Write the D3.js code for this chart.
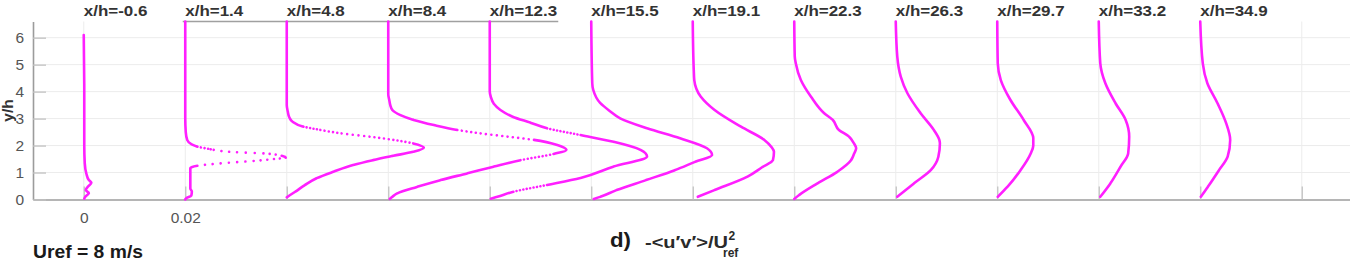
<!DOCTYPE html>
<html>
<head>
<meta charset="utf-8">
<script src="https://cdn.jsdelivr.net/npm/d3@7"></script>
<style>
  html, body { margin: 0; padding: 0; background: #fff; }
  svg { display: block; font-family: Arial, "Liberation Sans", sans-serif; }
</style>
</head>
<body>
<svg id="chart" width="1350" height="269"></svg>
<script>
// stations along the channel, each profile shifted by 0.02 on the x axis
const stationLabels = ['x/h=-0.6', 'x/h=1.4', 'x/h=4.8', 'x/h=8.4', 'x/h=12.3', 'x/h=15.5',
  'x/h=19.1', 'x/h=22.3', 'x/h=26.3', 'x/h=29.7', 'x/h=33.2', 'x/h=34.9'];
const stationShift = [0, 0.02, 0.04, 0.06, 0.08, 0.10, 0.12, 0.14, 0.16, 0.18, 0.20, 0.22];

const xTickValues = [0, 0.02, 0.04, 0.06, 0.08, 0.10, 0.12, 0.14, 0.16, 0.18, 0.20, 0.22, 0.24];
const xTickLabels = ['0', '0.02'];
const yTickValues = [0, 1, 2, 3, 4, 5, 6];

// [y/h, -<u'v'>/Uref^2], top to bottom
const profM06 = [[6.1, 0], [4, 0.0001], [2, 0.0001], [1.34, 0.0002], [0.97, 0.0005], [0.72, 0.001],
  [0.62, 0.0015], [0.47, 0.0008], [0.35, 0.0004], [0.24, 0.001], [0.1, 0.0003], [0.03, 0.0001]];
const prof14 = [[6.6, 0], [3, 0], [2.5, 0.0001], [2.2, 0.0004], [2.05, 0.0012], [1.96, 0.0024],
  [1.88, 0.0045], [1.84, 0.0056], [1.75, 0.0102], [1.71, 0.0154], [1.62, 0.019], [1.55, 0.0198],
  [1.5, 0.0175], [1.43, 0.0135], [1.34, 0.007], [1.25, 0.0024], [1.16, 0.001], [0.8, 0.001],
  [0.41, 0.001], [0.3, 0.0013], [0.15, 0.0012], [0.05, 0.0002], [0, 0]];
const prof48 = [[6.6, 0], [3.5, 0], [3.26, 0.0002], [3.05, 0.0005], [2.89, 0.0011], [2.7, 0.0033],
  [2.58, 0.0066], [2.45, 0.0108], [2.33, 0.0163], [2.21, 0.021], [2.08, 0.0249], [1.92, 0.027],
  [1.77, 0.0249], [1.62, 0.021], [1.46, 0.017], [1.28, 0.0131], [1.03, 0.0092], [0.79, 0.0059],
  [0.54, 0.0036], [0.29, 0.0017], [0.08, 0]];
const prof84 = [[6.6, 0], [3.9, 0], [3.69, 0.0002], [3.5, 0.0004], [3.32, 0.0008], [3.13, 0.0024],
  [2.95, 0.005], [2.76, 0.009], [2.58, 0.0136], [2.45, 0.0182], [2.33, 0.0235], [2.21, 0.0287],
  [2.02, 0.0333], [1.84, 0.0351], [1.69, 0.0326], [1.46, 0.0261], [1.22, 0.0208], [0.97, 0.0156],
  [0.72, 0.0103], [0.47, 0.0057], [0.23, 0.0018], [0.1, 0.0008], [0.02, 0.0003]];
const prof123 = [[6.6, 0], [4, 0], [3.81, 0.0002], [3.55, 0.0008], [3.32, 0.0021], [3.07, 0.0045],
  [2.85, 0.008], [2.64, 0.0113], [2.39, 0.0179], [2.14, 0.0244], [1.84, 0.0297], [1.59, 0.031],
  [1.22, 0.0244], [0.8, 0.0179], [0.54, 0.0113], [0.29, 0.0047], [0.1, 0.0015], [0.03, 0.0002]];
const prof155 = [[6.6, 0], [4.3, 0.0002], [4.06, 0.0004], [3.57, 0.0018], [3.3, 0.0035], [3.01, 0.0057],
  [2.64, 0.011], [2.27, 0.0175], [1.9, 0.0228], [1.65, 0.0238], [1.4, 0.0205], [1.09, 0.0165],
  [0.72, 0.0108], [0.35, 0.005], [0.1, 0.0018], [0.02, 0.0005]];
const prof191 = [[6.6, 0], [4.8, 0.0002], [4.43, 0.0003], [3.81, 0.0016], [3.32, 0.0043], [2.7, 0.0095],
  [2.21, 0.0141], [1.95, 0.0155], [1.77, 0.016], [1.46, 0.0158], [1.2, 0.0137], [0.85, 0.0108],
  [0.35, 0.0043], [0.1, 0.001]];
const prof223 = [[6.6, 0], [5.3, 0.0001], [5.05, 0.0003], [4.43, 0.0013], [3.81, 0.0033], [3.2, 0.0059],
  [2.95, 0.0076], [2.58, 0.0088], [2.33, 0.0108], [2.1, 0.0117], [1.9, 0.0122], [1.7, 0.0118],
  [1.46, 0.0112], [1.03, 0.0085], [0.6, 0.0046], [0.17, 0.001], [0.02, 0]];
const prof263 = [[6.6, 0], [5.3, 0.0003], [4.55, 0.001], [3.94, 0.0023], [3.2, 0.0049], [2.58, 0.0075],
  [2.2, 0.0086], [2.08, 0.0087], [1.59, 0.0084], [1.09, 0.0069], [0.6, 0.0036], [0.1, 0.0003]];
const prof297 = [[6.6, 0], [5.05, 0.0001], [4.43, 0.0007], [3.69, 0.0026], [2.95, 0.0052], [2.27, 0.0071],
  [2.0, 0.0071], [1.71, 0.0066], [1.09, 0.0046], [0.47, 0.002], [0.1, 0.0001]];
const prof332 = [[6.6, 0], [5.05, 0.0003], [4.31, 0.0013], [3.57, 0.0033], [2.95, 0.0053], [2.33, 0.006],
  [1.71, 0.0058], [1.22, 0.0043], [0.6, 0.0023], [0.1, 0.0003]];
const prof349 = [[6.6, 0], [5.05, 0.0005], [4.31, 0.0014], [3.57, 0.0034], [2.83, 0.0051], [2.21, 0.0059],
  [1.59, 0.0054], [1.09, 0.0037], [0.47, 0.0015], [0.1, 0.0001]];

const profiles = [profM06, prof14, prof48, prof84, prof123, prof155,
  prof191, prof223, prof263, prof297, prof332, prof349];

const svg = d3.select('#chart');
const x = d3.scaleLinear().domain([-0.01, 0.25]).range([33, 1352.5]);
const y = d3.scaleLinear().domain([0, 6.6]).range([199.5, 21.5]);

// light grid
const grid = svg.append('g').attr('stroke', '#ececec').attr('stroke-width', 1);
grid.selectAll('line.gy').data(yTickValues.slice(1)).join('line')
  .attr('x1', x(-0.01)).attr('x2', x(0.25))
  .attr('y1', d => y(d)).attr('y2', d => y(d));
grid.selectAll('line.gx').data(xTickValues).join('line')
  .attr('x1', d => x(d)).attr('x2', d => x(d))
  .attr('y1', y(0)).attr('y2', y(6.6));

// axes, ticks pointing inwards
const xAxis = d3.axisBottom(x).tickValues(xTickValues)
  .tickSizeInner(-13).tickSizeOuter(0).tickPadding(12)
  .tickFormat((d, i) => xTickLabels[i] || '');
const yAxis = d3.axisLeft(y).tickValues(yTickValues)
  .tickSizeInner(-13).tickSizeOuter(0).tickPadding(9)
  .tickFormat(d3.format('d'));

const gx = svg.append('g').attr('transform', `translate(0,${y(0)})`).call(xAxis);
const gy = svg.append('g').attr('transform', `translate(${x(-0.01)},0)`).call(yAxis);
[gx, gy].forEach(g => {
  g.select('.domain').attr('stroke', '#9c9c9c').attr('stroke-width', 1.6);
  g.selectAll('.tick line').attr('stroke', '#c2c2c2').attr('stroke-width', 1.3);
  g.selectAll('.tick text').attr('fill', '#555').attr('font-size', 15.5)
    .attr('font-family', 'Arial, "Liberation Sans", sans-serif');
});

// stray piece of the top box
svg.append('line')
  .attr('x1', x(0.0195)).attr('x2', x(0.0935))
  .attr('y1', y(6.6)).attr('y2', y(6.6))
  .attr('stroke', '#a0a0a0').attr('stroke-width', 1.5);

// profiles: one smooth path each; where the profile runs flat the
// individual markers separate, so the dash pattern turns into dots there
const line = d3.line().curve(d3.curveMonotoneY);
const gp = svg.append('g').attr('fill', 'none').attr('stroke', '#ff1fff')
  .attr('stroke-width', 2.6).attr('stroke-linecap', 'round');

function dashFor(pts, pathEl) {
  const cum = [0];
  for (let k = 1; k < pts.length; k++) {
    pathEl.setAttribute('d', line(pts.slice(0, k + 1)));
    cum.push(pathEl.getTotalLength());
  }
  const dash = [];
  for (let k = 1; k < pts.length; k++) {
    const seg = Math.max(cum[k] - cum[k - 1], 0.02);
    const dy = Math.abs(pts[k][1] - pts[k - 1][1]);
    const spacing = 0.7 * seg / Math.max(dy, 0.3);
    if (spacing < 3.5) {
      dash.push(seg, 0);
    } else {
      const n = Math.max(1, Math.round(seg / Math.min(spacing, 9)));
      const step = seg / n;
      for (let j = 0; j < n; j++) dash.push(0.01, step - 0.01);
    }
  }
  return dash.map(v => v.toFixed(2)).join(' ');
}

profiles.forEach((prof, i) => {
  const pts = prof.map(([yh, v]) => [x(stationShift[i] + v), y(yh)]);
  const p = gp.append('path');
  const dash = dashFor(pts, p.node());
  p.attr('d', line(pts)).attr('stroke-dasharray', dash);
});

// station titles
svg.append('g').selectAll('text').data(stationLabels).join('text')
  .attr('transform', (d, i) => `translate(${x(stationShift[i])},16) scale(1.17,1)`)
  .attr('font-size', 14.5).attr('font-weight', 'bold').attr('fill', '#333')
  .text(d => d);

// y label hugging the left edge
svg.append('text')
  .attr('transform', `translate(12.5,${y(3.3)}) rotate(-90)`)
  .attr('text-anchor', 'middle')
  .attr('font-size', 15.5).attr('font-weight', 'bold').attr('fill', '#333')
  .text('y/h');

// notes under the plot
svg.append('text')
  .attr('x', 33).attr('y', 257.5)
  .attr('font-size', 18).attr('font-weight', 'bold').attr('fill', '#1a1a1a')
  .attr('textLength', 110).attr('lengthAdjust', 'spacingAndGlyphs')
  .text('Uref = 8 m/s');

svg.append('text')
  .attr('x', 610).attr('y', 247)
  .attr('font-size', 20).attr('font-weight', 'bold').attr('fill', '#1a1a1a')
  .attr('textLength', 21).attr('lengthAdjust', 'spacingAndGlyphs')
  .text('d)');

svg.append('text')
  .attr('x', 645).attr('y', 248)
  .attr('font-size', 16).attr('font-weight', 'bold').attr('fill', '#2a2a2a')
  .attr('textLength', 83).attr('lengthAdjust', 'spacingAndGlyphs')
  .text('-<u\u2032v\u2032>/U');
svg.append('text')
  .attr('x', 728.5).attr('y', 240)
  .attr('font-size', 12).attr('font-weight', 'bold').attr('fill', '#2a2a2a')
  .text('2');
svg.append('text')
  .attr('x', 723).attr('y', 257)
  .attr('font-size', 12).attr('font-weight', 'bold').attr('fill', '#2a2a2a')
  .text('ref');
</script>
</body>
</html>
